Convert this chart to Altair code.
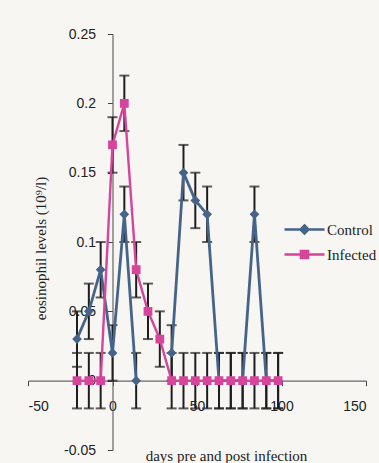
import altair as alt
import pandas as pd

# ---- data ----
days = [-21, -14, -7, 0, 7, 14, 21, 28, 35, 42, 49, 56, 63, 70, 77, 84, 91, 98]
control = [0.03, 0.05, 0.08, 0.02, 0.12, 0.0, None, None, 0.02, 0.15, 0.13, 0.12,
           0.0, 0.0, 0.0, 0.12, 0.0, 0.0]
control_err = [0.02] * 18
infected = [0.0, 0.0, 0.0, 0.17, 0.20, 0.08, 0.05, 0.03, 0.0, 0.0, 0.0, 0.0,
            0.0, 0.0, 0.0, 0.0, 0.0, 0.0]
infected_err = [0.02] * 18

series_names = ["Control", "Infected"]
series_colors = ["#46648a", "#d6449c"]
y_ticks = [-0.05, 0.0, 0.05, 0.1, 0.15, 0.2, 0.25]
x_ticks = [-50, 0, 50, 100, 150]

rows = []
for name, vals, errs in [("Control", control, control_err), ("Infected", infected, infected_err)]:
    seg = 0
    for d, v, e in zip(days, vals, errs):
        if v is None:
            seg += 1
            continue
        rows.append({"day": d, "value": v, "lo": v - e, "hi": v + e,
                     "series": name, "seg": f"{name}-{seg}"})
df = pd.DataFrame(rows)

caps = pd.concat([
    df[["day", "lo", "series"]].rename(columns={"lo": "cap"}),
    df[["day", "hi", "series"]].rename(columns={"hi": "cap"}),
])

W, H = 338, 416
xs = alt.Scale(domain=[-50, 150], nice=False, zero=False)
ys = alt.Scale(domain=[-0.05, 0.25], nice=False, zero=False)

x_axis = alt.Axis(values=x_ticks, offset=-H / 6, tickSize=5, labelPadding=14,
                  title="days pre and post infection", titleX=198, titleY=80,
                  titleAlign="center", titleBaseline="alphabetic",
                  labelExpr="'' + datum.value")
y_axis = alt.Axis(values=y_ticks, offset=-W / 4, tickSize=5, labelPadding=12,
                  title="eosinophil levels (10⁹/l)", titleX=-72, titleY=214,
                  titleAngle=270, titleAlign="center", titleBaseline="middle",
                  labelExpr="'' + datum.value")

base = alt.Chart(df)

bars = base.mark_rule(color="#1e1e1e", strokeWidth=2).encode(
    x=alt.X("day:Q", scale=xs, axis=x_axis),
    y=alt.Y("lo:Q", scale=ys, axis=y_axis),
    y2="hi:Q",
)

cap_marks = alt.Chart(caps).mark_tick(color="#1e1e1e", orient="horizontal",
                                      size=10, thickness=2).encode(
    x=alt.X("day:Q", scale=xs),
    y=alt.Y("cap:Q", scale=ys),
)

line_layers = []
for name, col, sw in zip(series_names, series_colors, [2.8, 2.4]):
    line_layers.append(
        base.transform_filter(alt.datum.series == name).mark_line(color=col, strokeWidth=sw).encode(
            x=alt.X("day:Q", scale=xs),
            y=alt.Y("value:Q", scale=ys),
            detail="seg:N",
        )
    )

shape_paths = ["M-5,0H5M0,-1L1,0L0,1L-1,0Z", "M-5,0H5M-0.9,-0.9H0.9V0.9H-0.9Z"]
leg = alt.Legend(title=None, orient="none", legendX=269, legendY=188,
                 labelFont="Liberation Serif", labelFontSize=15, labelColor="#222",
                 labelOffset=15, rowPadding=6, symbolSize=64, symbolStrokeWidth=2.5)

points = base.mark_point(filled=True, opacity=1, size=95).encode(
    x=alt.X("day:Q", scale=xs),
    y=alt.Y("value:Q", scale=ys),
    color=alt.Color("series:N", scale=alt.Scale(domain=series_names, range=series_colors), legend=leg),
    stroke=alt.Stroke("series:N", scale=alt.Scale(domain=series_names, range=series_colors), legend=leg),
    shape=alt.Shape("series:N", scale=alt.Scale(domain=series_names, range=shape_paths), legend=leg),
    strokeWidth=alt.value(0),
)

chart = alt.layer(bars, cap_marks, *line_layers, points).properties(
    width=W, height=H,
    autosize=alt.AutoSizeParams(type="none"),
    padding={"left": 28, "top": 34, "right": 13, "bottom": 13},
    background="#f7f6f2",
).configure_view(stroke=None).configure_axis(
    grid=False, domainColor="#666", domainWidth=1.2, tickColor="#444",
    labelFont="Liberation Sans", labelFontSize=14, labelColor="#222",
    titleFont="Liberation Serif", titleFontSize=15, titleFontWeight="normal", titleColor="#222",
)

chart.save("out.html", embed_options={"renderer": "svg", "actions": False})
